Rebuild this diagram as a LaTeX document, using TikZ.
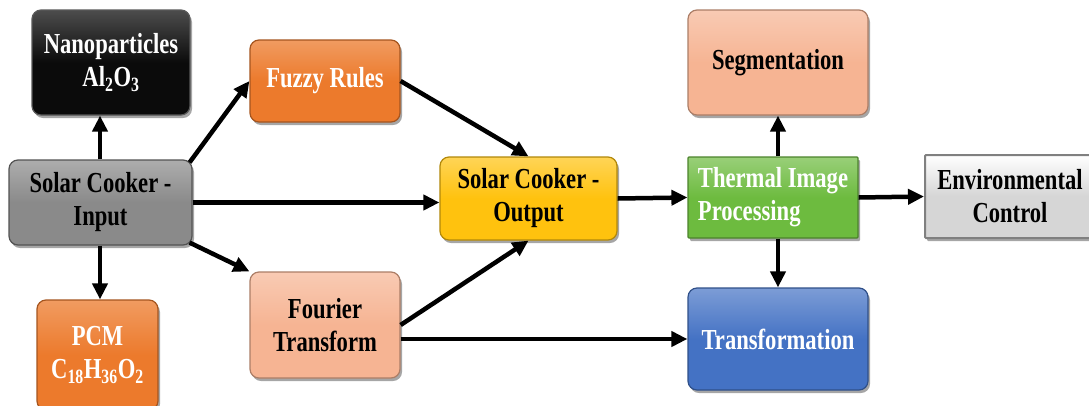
\documentclass[tikz,border=0pt]{standalone}
\usepackage{fontspec}
\setmainfont{Liberation Serif}[FakeStretch=0.78]
\usetikzlibrary{arrows.meta,shadows,calc}
\definecolor{cblack}{HTML}{0B0B0B}
\definecolor{corange}{HTML}{EC7A2C}
\definecolor{cgray}{HTML}{8A8A8A}
\definecolor{csalmon}{HTML}{F6B493}
\definecolor{cyellow}{HTML}{FFC20E}
\definecolor{cgreen}{HTML}{6DBB3F}
\definecolor{cblue}{HTML}{4472C4}
\definecolor{clight}{HTML}{D6D6D6}
\tikzset{
  box/.style={rounded corners=9pt, align=center, inner sep=2pt,
    font=\fontsize{29}{33}\selectfont\bfseries,
    line width=1.2pt,
    drop shadow={shadow xshift=2pt, shadow yshift=-3pt, opacity=0.35, fill=black}},
  bblack/.style={box, draw=gray!70!black, top color=black!70, bottom color=cblack, middle color=cblack, text=white},
  borange/.style={box, draw=corange!70!black, top color=corange!75!white, bottom color=corange, middle color=corange, text=white},
  bgray/.style={box, draw=cgray!60!black, top color=cgray!70!white, bottom color=cgray, middle color=cgray, text=black},
  bsalmon/.style={box, draw=csalmon!70!black, top color=csalmon!70!white, bottom color=csalmon, middle color=csalmon, text=black},
  byellow/.style={box, draw=cyellow!70!black, top color=cyellow!70!white, bottom color=cyellow, middle color=cyellow, text=black},
  bgreen/.style={box, rounded corners=1pt, draw=cgreen!70!black, top color=cgreen!70!white, bottom color=cgreen, middle color=cgreen, text=white},
  bblue/.style={box, draw=cblue!70!black, top color=cblue!70!white, bottom color=cblue, middle color=cblue, text=white},
  blight/.style={box, rounded corners=1pt, draw=black!50, line width=2pt, top color=white, bottom color=clight, middle color=clight, text=black},
  arr/.style={line width=4.5pt, -{Triangle[length=16pt,width=15pt]}}
}
\begin{document}
\begin{tikzpicture}[x=1pt,y=-1pt]
\useasboundingbox[fill=white] (0,0) rectangle (1089,405);
\node[bblack, minimum width=158pt, minimum height=105pt] (nano) at (111,62.5) {Nanoparticles\\Al\textsubscript{2}O\textsubscript{3}};
\node[borange, minimum width=150pt, minimum height=82pt] (fuzzy) at (325,81) {Fuzzy Rules};
\node[bgray, minimum width=183pt, minimum height=85pt] (input) at (100.5,202.5) {Solar Cooker -\\Input};
\node[borange, minimum width=121pt, minimum height=110pt] (pcm) at (97.5,355) {PCM\\C\textsubscript{18}H\textsubscript{36}O\textsubscript{2}};
\node[bsalmon, minimum width=150pt, minimum height=106pt] (fourier) at (325,325) {Fourier\\Transform};
\node[byellow, minimum width=177pt, minimum height=83pt] (output) at (528.5,198.5) {Solar Cooker -\\Output};
\node[bsalmon, minimum width=180pt, minimum height=105pt] (seg) at (778,62.5) {Segmentation};
\node[bgreen, minimum width=170pt, minimum height=81pt, align=left] (thermal) at (773,197.5) {Thermal Image\\Processing};
\node[bblue, minimum width=180pt, minimum height=102pt] (transf) at (778,339) {Transformation};
\node[blight, minimum width=170pt, minimum height=83pt] (env) at (1010,196.5) {Environmental\\Control};

\draw[arr] (input.north -| 100,0) -- (nano.south -| 100,0);
\draw[arr] (input.south -| 100,0) -- (pcm.north -| 100,0);
\draw[arr] ($(input.north east)+(-3,3)$) -- (fuzzy.west);
\draw[arr] (input.east) -- (input.east -| output.west);
\draw[arr] ($(input.south east)+(-3,-3)$) -- (fourier.north west);
\draw[arr] (fuzzy.east) -- (output.north);
\draw[arr] (fourier.east) -- (output.south);
\draw[arr] (transf.west -| fourier.east) -- (transf.west);
\draw[arr] (output.east) -- (thermal.west);
\draw[arr] (seg.south |- thermal.north) -- (seg.south);
\draw[arr] (transf.north |- thermal.south) -- (transf.north);
\draw[arr] (thermal.east) -- (env.west);
\end{tikzpicture}
\end{document}
